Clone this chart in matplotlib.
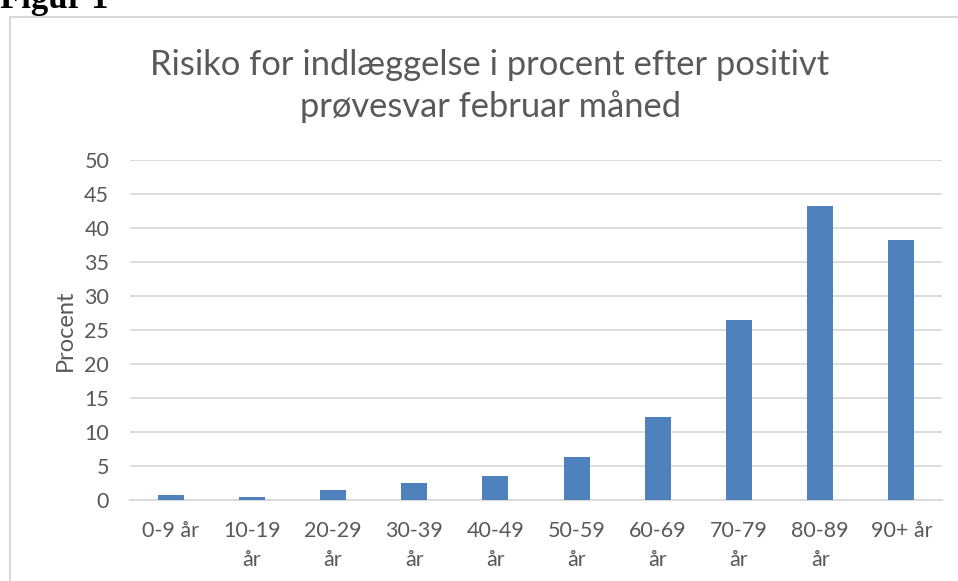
import matplotlib.pyplot as plt
import numpy as np
from matplotlib.patches import Rectangle

# Aldersgrupper og risiko (procent)
categories = ['0-9 år', '10-19\når', '20-29\når', '30-39\når', '40-49\når',
              '50-59\når', '60-69\når', '70-79\når', '80-89\når', '90+ år']
values = [0.8, 0.5, 1.4, 2.5, 3.6, 6.3, 12.2, 26.5, 43.3, 38.3]
yticks = [0, 5, 10, 15, 20, 25, 30, 35, 40, 45, 50]

text_color = '#595959'
grid_color = '#D9D9D9'
bar_color = '#4F81BD'
font = 'Lato'

fig = plt.figure(figsize=(9.58, 5.81), dpi=100)
ax = fig.add_axes([130 / 958, 1 - 500 / 581, 812 / 958, 340 / 581])

x = np.arange(len(categories))
ax.bar(x, values, width=0.32, color=bar_color, zorder=3)

ax.set_xlim(-0.5, len(categories) - 0.5)
ax.set_ylim(0, 50)
ax.set_yticks(yticks)
ax.set_xticks(x)
ax.set_xticklabels(categories, linespacing=1.55)
ax.grid(axis='y', color=grid_color, linewidth=1.3, zorder=0)
ax.tick_params(axis='y', length=0, labelsize=15.5, labelcolor=text_color, pad=15)
ax.tick_params(axis='x', length=0, labelsize=15.5, labelcolor=text_color, pad=15)
for lbl in ax.get_xticklabels() + ax.get_yticklabels():
    lbl.set_fontfamily(font)
for side in ['top', 'right', 'left']:
    ax.spines[side].set_visible(False)
ax.spines['bottom'].set_color(grid_color)
ax.spines['bottom'].set_linewidth(1.3)

ax.set_ylabel('Procent', fontsize=17, color=text_color, family=font, labelpad=6)

fig.text(490 / 958, 1 - 86 / 581, 'Risiko for indlæggelse i procent efter positivt\nprøvesvar februar måned',
         ha='center', va='center', fontsize=24.8, color=text_color, family=font,
         linespacing=1.32)

# ramme om diagrammet
fig.add_artist(Rectangle((9.5 / 958, -0.1), 1.2, 1.1 - 16.5 / 581, transform=fig.transFigure,
                         fill=False, edgecolor=grid_color, linewidth=1.5))

fig.text(0 / 958, 1 - 8 / 581, 'Figur 1', ha='left', va='baseline', fontsize=25,
         fontweight='bold', family='Liberation Serif', color='black')

fig.savefig('out.png', dpi=100)
